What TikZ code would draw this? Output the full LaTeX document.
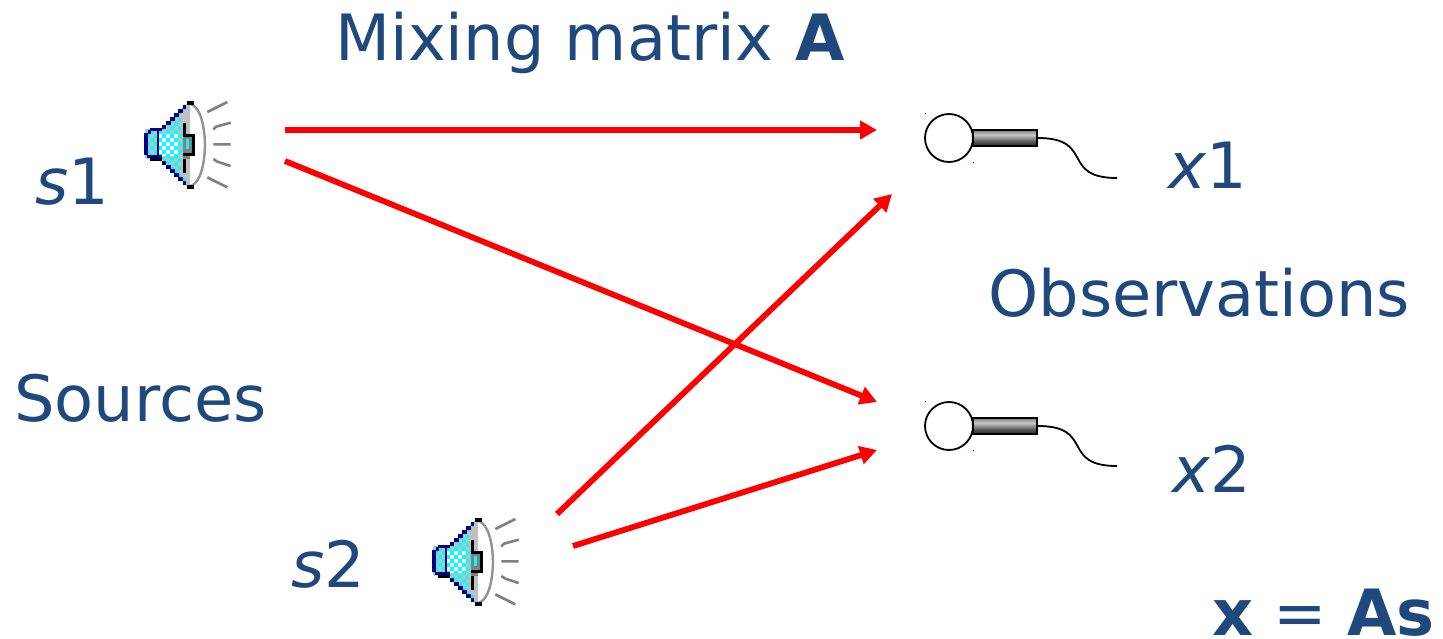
\documentclass[tikz,border=0pt]{standalone}
\usepackage{fontspec}
\setmainfont{DejaVu Sans}
\usetikzlibrary{arrows.meta}
\definecolor{tblue}{HTML}{1F497D}
\definecolor{navy1}{HTML}{000080}
\definecolor{spgray}{HTML}{808080}
\definecolor{spsilver}{HTML}{C0C0C0}
\definecolor{spcyan}{HTML}{00FFFF}
\pgfdeclareverticalshading{micgrad}{100bp}{
  color(0bp)=(black!85); color(25bp)=(black!85); color(40bp)=(black!65);
  color(60bp)=(black!22); color(75bp)=(black!50); color(100bp)=(black!50)}
\tikzset{
  lbl/.style={text=tblue,font=\fontsize{31.9}{36}\selectfont,inner sep=0pt,anchor=base west},
  mixarrow/.style={draw=red,line width=2.9pt,-{Triangle[length=8.5pt,width=9pt]}},
  micball/.style={circle,draw=black,line width=0.9pt,minimum size=24pt,inner sep=0pt,fill=white},
  micbody/.style={rectangle,draw=black,line width=0.9pt,minimum width=32pt,minimum height=8pt,inner sep=0pt,
    shading=micgrad},
  micwire/.style={draw=black,line width=0.9pt},
  micdot/.style={fill=black}
}
\newcommand{\drawspeaker}[2]{%
  \begin{scope}[shift={(#1,#2)},x=0.16667pt,y=-0.16667pt]
    % horn and back box, checkered
    \begin{scope}
      \clip (45,118) -- (95,118) -- (172,40) -- (172,290) -- (95,205) -- (45,205) -- cycle;
      \fill[spsilver] (45,30) rectangle (175,295);
      \fill[white] (84,132) rectangle (145,198);
      \foreach \i in {0,...,11}{\foreach \j in {0,...,22}{
        \pgfmathtruncatemacro{\k}{mod(\i+\j,2)}
        \ifnum\k=0 \fill[spcyan] ({48+\i*12},{36+\j*12}) rectangle ({60+\i*12},{48+\j*12});\fi
      }}
      \fill[spsilver] (152,70) rectangle (172,130);
      \fill[spsilver] (152,200) rectangle (172,260);
    \end{scope}
    % back box outline
    \fill[navy1] (60,114) rectangle (95,123);
    \fill[navy1] (43,130) rectangle (53,196);
    \fill[navy1] (53,121) rectangle (62,132);
    \fill[navy1] (50,194) rectangle (95,204);
    \fill[black] (60,204) rectangle (95,212);
    \fill[navy1] (82,120) rectangle (87,200);
    % stair-stepped horn edges
    \foreach \i in {0,...,6}{
      \fill[navy1] ({95+\i*12.5},{104-\i*12}) rectangle ({109+\i*12.5},{118-\i*12});
      \fill[navy1] ({95+\i*12.5},{212+\i*12}) rectangle ({109+\i*12.5},{226+\i*12});
    }
    % cone rim
    \fill[white] (197,165) ellipse (30 and 122);
    \fill[spsilver] (168,45) rectangle (180,285);
    \draw[spgray!85!white,line width=1.2pt] (182,42) .. controls (212,52) and (224,110) .. (225,165) .. controls (224,220) and (212,278) .. (182,288);
    \fill[black] (158,100) rectangle (168,250);
    \fill[black] (170,33) rectangle (192,45);
    \fill[black] (170,285) rectangle (192,297);
    \fill[black] (158,133) rectangle (194,197);
    \fill[spgray] (160,142) rectangle (186,188);
    \fill[spcyan] (167,148) rectangle (178,178);
    \fill[spgray] (158,197) rectangle (180,208);
    % sound dashes
    \draw[spgray,line width=1.3pt] (232,66) -- (292,36) (250,118) -- (258,110) -- (302,98) (250,163) -- (302,163)
      (250,207) -- (262,215) -- (302,228) (232,262) -- (292,292);
  \end{scope}%
}
\begin{document}
\begin{tikzpicture}[x=0.5pt,y=-0.5pt]
\useasboundingbox (0,0) rectangle (1443,638);
\drawspeaker{130}{90}
\drawspeaker{418}{507}
% labels
\node[lbl] (title) at (335,60) {Mixing matrix\hspace{1pt} \textbf{A}};
\node[lbl] (s1) at (35,204) {\textit{s}1};
\node[lbl] (s2) at (291,587) {\textit{s}2};
\node[lbl] (src) at (14,421) {Sources};
\node[lbl] (obs) at (988,316) {Observations};
\node[lbl] (x1) at (1168,188) {\textit{x}1};
\node[lbl] (x2) at (1172,492) {\textit{x}2};
\node[lbl] (eq) at (1212,635) {\textbf{x} = \textbf{As}};
% microphones
\foreach \n/\yy in {1/138,2/426}{
  \node[micball] (ball\n) at (949,\yy) {};
  \node[micbody] (body\n) at (1005,\yy) {};
  \coordinate (end\n) at (1117,\yy+40);
  \draw[micwire] (body\n.east) .. controls (1095,\yy) and (1060,\yy+40) .. (end\n);
  \fill[micdot] (925,\yy-25) rectangle +(1,1);
  \fill[micdot] (973,\yy+24) rectangle +(1,1);
}
% arrows
\coordinate (a1) at (285,130); \coordinate (b1) at (877,130);
\coordinate (a2) at (285,161); \coordinate (b2) at (877,402);
\coordinate (a3) at (557,514); \coordinate (b3) at (892,194);
\coordinate (a4) at (573,546); \coordinate (b4) at (877,450);
\draw[mixarrow] (a1) -- (b1);
\draw[mixarrow] (a2) -- (b2);
\draw[mixarrow] (a3) -- (b3);
\draw[mixarrow] (a4) -- (b4);
\end{tikzpicture}
\end{document}
